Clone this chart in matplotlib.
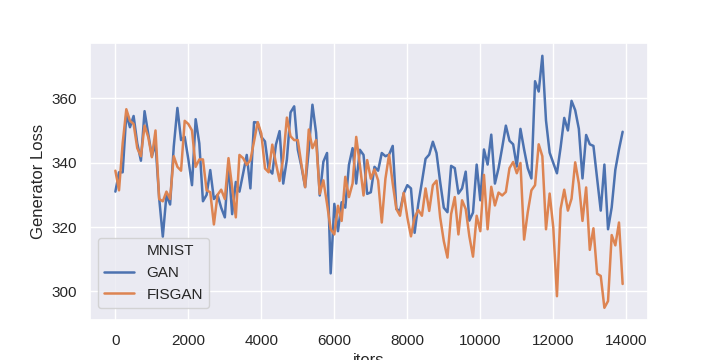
import numpy as np
import matplotlib
matplotlib.use("Agg")
import matplotlib.pyplot as plt
from matplotlib.ticker import MultipleLocator
import seaborn as sns

sns.set_theme()
plt.rcParams['font.family'] = ['Liberation Sans', 'DejaVu Sans']

# iteraciones cada 100 pasos
iters = list(range(0, 14000, 100))

gan = [331, 337, 337, 355, 351, 354.5, 346, 340.6, 356, 349,
       342, 346, 329, 317, 330, 327, 345, 357, 347, 348,
       341, 333, 353.5, 346, 328, 330, 337.7, 328.7, 330, 326,
       323, 339.8, 324, 334, 331, 336.6, 342.4, 332, 352.6, 352.4,
       348, 346.6, 338, 336.6, 345.6, 349.8, 333.5, 341, 355.6, 357.5,
       344, 338.7, 332.4, 344, 358, 349.3, 329.8, 340.3, 343, 305.6,
       327.2, 318.7, 327.7, 326, 339.3, 344.5, 333.5, 344, 342.4, 330.3,
       330.8, 338.7, 337.5, 343, 342, 342.5, 345.2, 325.6, 325, 330.4,
       333, 332, 318.2, 327.2, 334, 341.2, 342.5, 346.5, 343, 334,
       326, 324.6, 339, 338.3, 330.4, 332, 337.2, 322, 324.5, 339.4,
       328.3, 344.1, 339.4, 348.7, 333.5, 338.3, 344.7, 351.5, 346.8, 345.7,
       338.8, 350.5, 344.1, 338.3, 335.1, 365.3, 362.1, 373.2, 353.1, 343.1,
       339.9, 336.7, 344.7, 353.9, 350, 359.2, 356.3, 350.5, 335.1, 348.6,
       345.7, 345.2, 335.1, 325.1, 339.4, 319.3, 326.1, 337.8, 344.1, 349.6]

fisgan = [337.5, 331.4, 346, 356.6, 353, 352, 344.5, 342, 351.5, 348,
          341.7, 350, 328.7, 328, 331, 328.7, 342, 338.7, 337.5, 353,
          352, 350, 338.7, 341, 341, 331.4, 330.8, 320.8, 330, 331.6,
          328.7, 341.4, 332.4, 323, 342.4, 341.4, 339.3, 340.8, 346.6, 352.6,
          349, 338.2, 337, 345.6, 339.8, 334.3, 341.4, 354, 348.2, 347,
          347, 339.3, 332.4, 350.3, 344.5, 347, 330.3, 334.5, 327.2, 319.3,
          317.7, 326.6, 321.9, 335.6, 329.3, 333.5, 348, 339.3, 329.8, 340.8,
          335, 337.9, 334.5, 321.4, 335, 342.5, 333.5, 325.6, 323.5, 330.6,
          323, 317.1, 323, 325.3, 323.5, 332, 325, 333, 334.4, 323,
          315.6, 310.5, 324, 329.3, 317.7, 328.3, 325.6, 317.1, 310.8, 323.5,
          318.7, 336.2, 319.3, 332.5, 326.7, 330.7, 329.8, 330.9, 338.3, 340.2,
          336.7, 339.9, 316.1, 324.6, 331.4, 333, 345.7, 342, 319.3, 330.4,
          319.8, 298.5, 325.6, 331.6, 325.1, 328.8, 340.1, 333.5, 321.9, 332.3,
          312.9, 319.6, 305.5, 304.8, 294.9, 297, 317.5, 314.3, 321.4, 302.3]

fig, ax = plt.subplots(figsize=(7.2, 3.6), dpi=100)
pal = sns.color_palette()

# entrada vacia para el titulo al estilo seaborn antiguo
ax.plot([], [], color='none', label='MNIST')
ax.plot(iters, gan, color=pal[0], linewidth=1.8, label='GAN')
ax.plot(iters, fisgan, color=pal[1], linewidth=1.8, label='FISGAN')

ax.xaxis.set_major_locator(MultipleLocator(2000))
ax.yaxis.set_major_locator(MultipleLocator(20))

ax.set_xlabel('iters', fontsize=12)
ax.set_ylabel('Generator Loss', fontsize=12)
ax.tick_params(labelsize=11)
ax.legend(loc='lower left', bbox_to_anchor=(0, 0.018), fontsize=11)

fig.savefig('out.png', dpi=100)
